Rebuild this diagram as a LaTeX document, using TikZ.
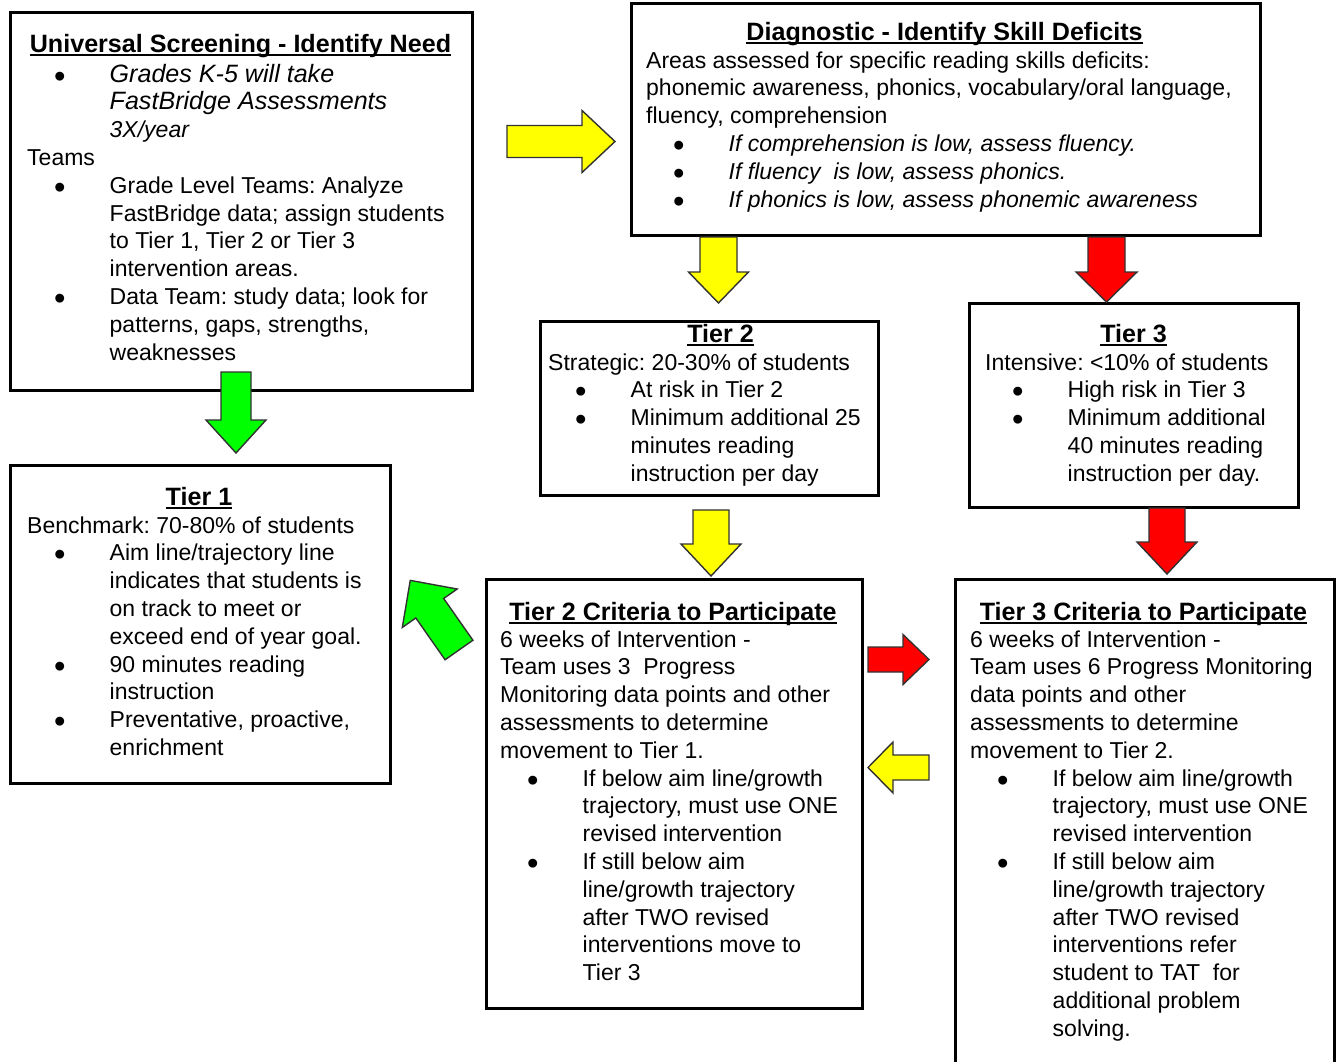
\documentclass[tikz,border=0pt]{standalone}
\usepackage{fontspec}
\usepackage{graphicx}
\setmainfont{Liberation Sans}
\newcommand\bodyfont{\fontsize{23}{27.8}\selectfont}
\newcommand\bigbody{\fontsize{25.1}{27.8}\selectfont}
\newcommand\headfont{\fontsize{25.1}{30}\selectfont\bfseries}
\newcommand\bl{\makebox[82.5pt][l]{\hspace{27pt}\smash{\raisebox{-5pt}{\scalebox{1.42}{\textbullet}}}}}
\newcommand\ind{\hspace*{82.5pt}}
\newcommand\hdl[1]{\setbox0\hbox{#1}\rlap{\rule[-3.5pt]{\wd0}{1.8pt}}\box0}
\newcommand\txtbox[1]{\begin{minipage}[t]{600pt}\bodyfont\frenchspacing\raggedright #1\end{minipage}}
% block arrow: colour, tail x, tail y, angle, length, shaft half width, head half width, head length
\newcommand\barr[8]{\draw[blk,fill=#1,shift={(#2,#3)},rotate=#4] (0,#6)--({#5-#8},#6)--({#5-#8},#7)--(#5,0)--({#5-#8},-#7)--({#5-#8},-#6)--(0,-#6)--cycle;}
\definecolor{ayellow}{RGB}{255,255,0}
\definecolor{ared}{RGB}{255,0,0}
\definecolor{agreen}{RGB}{0,255,0}
\definecolor{aline}{RGB}{50,50,50}
\tikzset{
  box/.style={draw=black, line width=3pt, rectangle, inner sep=0pt, anchor=north west},
  body/.style={inner sep=0pt, anchor=base west, text=black},
  head/.style={inner sep=0pt, anchor=base, font=\headfont, text=black},
  blk/.style={draw=aline, line width=1.4pt, line join=miter}
}
\begin{document}
\begin{tikzpicture}[x=1pt,y=-1pt]
\useasboundingbox (0,0) rectangle (1340,1061);
\clip (0,0) rectangle (1340,1061);
\fill[white] (0,0) rectangle (1340,1061);
% boxes
\node[box, minimum width=462pt, minimum height=378pt] (us) at (9,11) {};
\node[box, minimum width=629pt, minimum height=232pt] (diag) at (630,2) {};
\node[box, minimum width=338pt, minimum height=174pt] (t2) at (539,320) {};
\node[box, minimum width=329pt, minimum height=204pt] (t3) at (968,302) {};
\node[box, minimum width=380pt, minimum height=318pt] (t1) at (9,464) {};
\node[box, minimum width=376pt, minimum height=429pt] (c2) at (485,578) {};
\node[box, minimum width=379pt, minimum height=500pt] (c3) at (954,578) {};
% headings
\node[head] (ush) at (240.5,52) {\hdl{Universal Screening - Identify Need}};
\node[head] (diagh) at (944.5,40) {\hdl{Diagnostic - Identify Skill Deficits}};
\node[head] (t2h) at (720.5,342) {\hdl{Tier 2}};
\node[head] (t3h) at (1133.5,342) {\hdl{Tier 3}};
\node[head] (t1h) at (199,505) {\hdl{Tier 1}};
\node[head] (c2h) at (673,620) {\hdl{Tier 2 Criteria to Participate}};
\node[head] (c3h) at (1143.5,620) {\hdl{Tier 3 Criteria to Participate}};
% body texts
\node[body] (ust) at (27,82) {\txtbox{%
\bl{\bigbody\textit{Grades K-5 will take}}\\
\ind{\bigbody\textit{FastBridge Assessments}}\\
\ind\textit{3X/year}\\
Teams\\
\bl Grade Level Teams: Analyze\\
\ind FastBridge data; assign students\\
\ind to Tier 1, Tier 2 or Tier 3\\
\ind intervention areas.\\
\bl Data Team: study data; look for\\
\ind patterns, gaps, strengths,\\
\ind weaknesses}};
\node[body] (diagt) at (646,68) {\txtbox{%
Areas assessed for specific reading skills deficits:\\
phonemic awareness, phonics, vocabulary/oral language,\\
fluency, comprehension\\
\bl\textit{If comprehension is low, assess fluency.}\\
\bl\textit{If fluency\ \ is low, assess phonics.}\\
\bl\textit{If phonics is low, assess phonemic awareness}}};
\node[body] (t2t) at (548,370) {\txtbox{%
Strategic: 20-30\% of students\\
\bl At risk in Tier 2\\
\bl Minimum additional 25\\
\ind minutes reading\\
\ind instruction per day}};
\node[body] (t3t) at (985,370) {\txtbox{%
Intensive: <10\% of students\\
\bl High risk in Tier 3\\
\bl Minimum additional\\
\ind 40 minutes reading\\
\ind instruction per day.}};
\node[body] (t1t) at (27,533) {\txtbox{%
Benchmark: 70-80\% of students\\
\bl Aim line/trajectory line\\
\ind indicates that students is\\
\ind on track to meet or\\
\ind exceed end of year goal.\\
\bl 90 minutes reading\\
\ind instruction\\
\bl Preventative, proactive,\\
\ind enrichment}};
\node[body] (c2t) at (500,647) {\txtbox{%
6 weeks of Intervention -\\
Team uses 3\ \ Progress\\
Monitoring data points and other\\
assessments to determine\\
movement to Tier 1.\\
\bl If below aim line/growth\\
\ind trajectory, must use ONE\\
\ind revised intervention\\
\bl If still below aim\\
\ind line/growth trajectory\\
\ind after TWO revised\\
\ind interventions move to\\
\ind Tier 3}};
\node[body] (c3t) at (970,647) {\txtbox{%
6 weeks of Intervention -\\
Team uses 6 Progress Monitoring\\
data points and other\\
assessments to determine\\
movement to Tier 2.\\
\bl If below aim line/growth\\
\ind trajectory, must use ONE\\
\ind revised intervention\\
\bl If still below aim\\
\ind line/growth trajectory\\
\ind after TWO revised\\
\ind interventions refer\\
\ind student to TAT\ \ for\\
\ind additional problem\\
\ind solving.}};
% block arrows
\barr{ayellow}{507}{141.5}{0}{108}{16}{31}{33}
\barr{ayellow}{718.5}{237}{-90}{66}{18.5}{30}{31}
\barr{ared}{1106.5}{237}{-90}{65}{18.5}{30.5}{30}
\barr{agreen}{236}{372}{-90}{81}{15}{30}{33}
\barr{ayellow}{711}{510}{-90}{66}{18}{30}{32}
\barr{ared}{1167}{508}{-90}{66}{18}{30}{32}
\barr{agreen}{459}{650}{125}{85}{17}{33.5}{34}
\barr{ared}{868}{659.5}{0}{61}{12.5}{25}{26}
\barr{ayellow}{929}{767.5}{180}{61}{12.5}{25.5}{25}
\end{tikzpicture}
\end{document}
